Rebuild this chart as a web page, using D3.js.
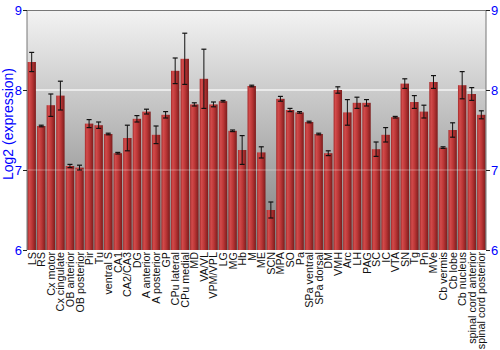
<!DOCTYPE html>
<html>
<head>
<meta charset="utf-8">
<script src="https://cdn.jsdelivr.net/npm/d3@7"></script>
<style>
  body { margin: 0; background: #fff; }
  svg { display: block; font-family: "Liberation Sans", Arial, sans-serif; }
</style>
</head>
<body>
<div class="visHolder"></div>
<script>
const regions = ['LS', 'RS', 'Cx motor', 'Cx cingulate', 'OB anterior', 'OB posterior', 'Pir', 'Tu',
  'ventral S', 'CA1', 'CA2/CA3', 'DG', 'A anterior', 'A posterior', 'GP', 'CPu lateral', 'CPu medial',
  'MD', 'VA/VL', 'VPM/VPL', 'LG', 'MG', 'Hb', 'M', 'ME', 'SCN', 'MPA', 'SO', 'Pa', 'SPa ventral',
  'SPa dorsal', 'DM', 'VMH', 'Arc', 'LH', 'PAG', 'SC', 'IC', 'VTA', 'SN', 'Tg', 'Pn', 'MVe',
  'Cb vermis', 'Cb lobe', 'Cb nucleus', 'spinal cord anterior', 'spinal cord posterior'];

const expression = [8.35, 7.55, 7.81, 7.93, 7.05, 7.03, 7.58, 7.56,
  7.45, 7.21, 7.40, 7.64, 7.73, 7.44, 7.69, 8.24, 8.39,
  7.82, 8.14, 7.82, 7.86, 7.49, 7.25, 8.05, 7.22, 6.50, 7.89, 7.75, 7.72, 7.60,
  7.45, 7.21, 8.00, 7.72, 7.84, 7.84, 7.26, 7.44, 7.66, 8.08, 7.85, 7.73, 8.10,
  7.28, 7.50, 8.06, 7.95, 7.69];

const errors = [0.12, 0.01, 0.14, 0.18, 0.02, 0.03, 0.05, 0.04,
  0.01, 0.01, 0.16, 0.04, 0.03, 0.11, 0.04, 0.16, 0.32,
  0.02, 0.37, 0.03, 0.01, 0.01, 0.18, 0.01, 0.07, 0.10, 0.03, 0.02, 0.01, 0.01,
  0.01, 0.03, 0.04, 0.16, 0.07, 0.04, 0.09, 0.09, 0.01, 0.06, 0.08, 0.08, 0.08,
  0.01, 0.09, 0.17, 0.08, 0.05];

const yTicks = [6, 7, 8, 9];

const width = 500;
const height = 350;
const margin = {top: 10, right: 14, bottom: 100, left: 27};

const svg = d3.select('.visHolder')
  .append('svg')
  .attr('width', width)
  .attr('height', height);

const defs = svg.append('defs');

const bg = defs.append('linearGradient')
  .attr('id', 'bg')
  .attr('x1', 0).attr('y1', 0).attr('x2', 0).attr('y2', 1);
bg.append('stop').attr('offset', '0%').attr('stop-color', '#f3f3f3');
bg.append('stop').attr('offset', '100%').attr('stop-color', '#7e7e7e');

const barGrad = defs.append('linearGradient')
  .attr('id', 'barGrad')
  .attr('x1', 0).attr('y1', 0).attr('x2', 1).attr('y2', 0);
barGrad.append('stop').attr('offset', '0%').attr('stop-color', '#a52a2a');
barGrad.append('stop').attr('offset', '22%').attr('stop-color', '#d24b4b');
barGrad.append('stop').attr('offset', '55%').attr('stop-color', '#bb3636');
barGrad.append('stop').attr('offset', '100%').attr('stop-color', '#7c1c1c');

const x = d3.scaleBand()
  .domain(regions)
  .range([margin.left, width - margin.right])
  .paddingInner(0.12)
  .paddingOuter(0.05);

const y = d3.scaleLinear()
  .domain([6, 9])
  .range([height - margin.bottom, margin.top]);

// plot background
svg.append('rect')
  .attr('x', margin.left)
  .attr('y', margin.top)
  .attr('width', width - margin.right - margin.left)
  .attr('height', y(6) - y(9))
  .style('fill', 'url(#bg)');

// gridline behind bars
svg.append('line')
  .attr('x1', margin.left).attr('x2', width - margin.right)
  .attr('y1', y(8)).attr('y2', y(8))
  .style('stroke', '#f4f4f4')
  .style('stroke-width', 1.5);

svg.selectAll('rect.bar')
  .data(expression)
  .enter()
  .append('rect')
  .attr('class', 'bar')
  .attr('x', (d, i) => x(regions[i]))
  .attr('y', d => y(d))
  .attr('width', x.bandwidth())
  .attr('height', d => y(6) - y(d))
  .style('fill', 'url(#barGrad)');

// gridline at 7 shows faintly over the bars
svg.append('line')
  .attr('x1', margin.left).attr('x2', width - margin.right)
  .attr('y1', y(7)).attr('y2', y(7))
  .style('stroke', '#ffffff')
  .style('stroke-opacity', 0.35)
  .style('stroke-width', 1);

// error bars
const err = svg.append('g').attr('class', 'errors');
expression.forEach((v, i) => {
  const cx = x(regions[i]) + x.bandwidth() / 2;
  const lo = y(v - errors[i]);
  const hi = y(v + errors[i]);
  err.append('line')
    .attr('x1', cx).attr('x2', cx).attr('y1', lo).attr('y2', hi)
    .style('stroke', '#111');
  [lo, hi].forEach(yy => {
    err.append('line')
      .attr('x1', cx - 2.5).attr('x2', cx + 2.5).attr('y1', yy).attr('y2', yy)
      .style('stroke', '#111')
      .style('stroke-width', 1.2);
  });
});

// frame
svg.append('line')
  .attr('x1', margin.left).attr('x2', width - margin.right)
  .attr('y1', margin.top + 0.5).attr('y2', margin.top + 0.5)
  .style('stroke', '#777');

const yAxisL = d3.axisLeft(y).tickValues(yTicks).tickSize(4).tickFormat(d3.format('d'));
const yAxisR = d3.axisRight(y).tickValues(yTicks).tickSize(4).tickFormat(d3.format('d'));

const gl = svg.append('g')
  .attr('transform', `translate(${margin.left}, 0)`)
  .call(yAxisL);
const gr = svg.append('g')
  .attr('transform', `translate(${width - margin.right}, 0)`)
  .call(yAxisR);

[gl, gr].forEach(g => {
  g.select('.domain').style('stroke', '#777').attr('d', `M0,${y(9)}V${y(6)}`);
  g.selectAll('.tick line').style('stroke', '#222');
  g.selectAll('.tick text')
    .style('fill', '#0000ff')
    .style('font-size', '13px')
    .style('font-family', '"Liberation Sans", Arial, sans-serif');
});
gl.selectAll('.tick text').attr('x', -5);
gr.selectAll('.tick text').attr('x', 5);

svg.append('text')
  .attr('transform', `translate(13, ${(y(6) + y(9)) / 2 - 6}) rotate(-90)`)
  .attr('text-anchor', 'middle')
  .style('fill', '#0000ff')
  .style('font-size', '14px')
  .text('Log2 (expression)');

// category labels
svg.append('g')
  .selectAll('text')
  .data(regions)
  .enter()
  .append('text')
  .attr('transform', d => `translate(${x(d) + x.bandwidth() / 2 + 4}, ${y(6) + 2}) rotate(-90)`)
  .attr('text-anchor', 'end')
  .style('font-size', '10.8px')
  .style('fill', '#111')
  .text(d => d);
</script>
</body>
</html>
